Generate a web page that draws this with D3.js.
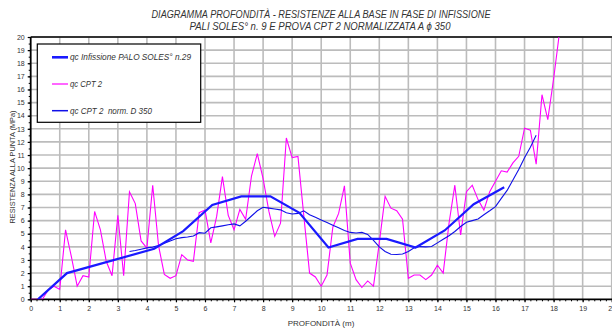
<!DOCTYPE html>
<html>
<head>
<meta charset="utf-8">
<script src="https://cdn.jsdelivr.net/npm/d3@7"></script>
<style>
  body { margin: 0; background: #fff; }
  svg { display: block; font-family: "Liberation Sans", Arial, sans-serif; }
</style>
</head>
<body>
<svg id="chart" width="612" height="329"></svg>
<script>
// qc Infissione PALO SOLES n.29 (depth m, MPa)
const paloDepth = [0.25, 1.25, 4.25, 5.25, 6.25, 7.25, 8.25, 9.25, 10.25, 11.25, 12.25, 13.25, 14.25, 15.25, 16.3];
const paloQc = [0, 2.0, 3.85, 5.2, 7.2, 7.85, 7.85, 6.6, 3.95, 4.6, 4.6, 3.95, 5.25, 7.25, 8.55];

// qc CPT 2
const cptDepth = [0, 0.4, 0.6, 0.8, 1.0, 1.2, 1.4, 1.6, 1.8, 2.0, 2.2, 2.4, 2.6, 2.8, 3.0, 3.2, 3.4, 3.6, 3.8, 4.0,
  4.2, 4.4, 4.6, 4.8, 5.0, 5.2, 5.4, 5.6, 5.8, 6.0, 6.2, 6.4, 6.6, 6.8, 7.0, 7.2, 7.4, 7.6, 7.8, 8.0,
  8.2, 8.4, 8.6, 8.8, 9.0, 9.2, 9.4, 9.6, 9.8, 10.0, 10.2, 10.4, 10.6, 10.8, 11.0, 11.2, 11.4, 11.6, 11.8, 12.0,
  12.2, 12.4, 12.6, 12.8, 13.0, 13.2, 13.4, 13.6, 13.8, 14.0, 14.2, 14.4, 14.6, 14.8, 15.0, 15.2, 15.4, 15.6, 15.8, 16.0,
  16.2, 16.4, 16.6, 16.8, 17.0, 17.2, 17.4, 17.6, 17.8, 18.0, 18.2];
const cptQc = [0, 0, 0.7, 1.0, 0.75, 5.3, 3.25, 1.0, 1.8, 1.7, 6.7, 5.3, 2.9, 1.8, 6.4, 1.8, 8.2, 7.3, 4.45, 3.9,
  8.7, 4.1, 1.9, 1.6, 1.8, 3.4, 3.0, 2.9, 6.6, 6.8, 4.3, 6.3, 9.35, 6.4, 5.3, 6.85, 6.1, 9.4, 11.1, 9.2,
  6.7, 4.8, 5.8, 12.3, 10.8, 10.9, 6.4, 2.0, 1.7, 1.0, 1.85, 5.5, 6.55, 8.65, 2.75, 1.5, 0.9, 1.4, 1.0, 4.3,
  7.85, 6.95, 6.75, 6.1, 1.6, 1.85, 1.85, 1.5, 1.85, 2.6, 2.0, 5.8, 8.7, 4.9, 8.2, 8.7, 7.6, 6.8, 8.2, 9.0,
  9.8, 9.7, 10.4, 10.9, 13.05, 12.9, 10.3, 15.6, 13.7, 16.8, 20.3];

// qc CPT 2 norm. D 350
const normDepth = [3.4, 3.6, 3.8, 4.0, 4.2, 4.4, 4.6, 4.8, 5.0, 5.2, 5.4, 5.6, 5.8, 6.0, 6.2, 6.4, 6.6, 6.8, 7.0, 7.2,
  7.4, 7.6, 7.8, 8.0, 8.2, 8.4, 8.6, 8.8, 9.0, 9.2, 9.4, 9.6, 9.8, 10.0, 10.2, 10.4, 10.6, 10.8, 11.0, 11.2,
  11.4, 11.6, 11.8, 12.0, 12.2, 12.4, 12.6, 12.8, 13.0, 13.2, 13.4, 13.6, 13.8, 14.0, 14.2, 14.4, 14.6, 14.8, 15.0, 15.2,
  15.4, 15.6, 15.8, 16.0, 16.2, 16.4, 16.6, 16.8, 17.0, 17.2, 17.4];
const normQc = [3.65, 3.72, 3.82, 3.92, 3.98, 4.1, 4.28, 4.45, 4.62, 4.7, 4.75, 4.82, 5.08, 5.04, 5.45, 5.52, 5.6, 5.68, 5.75, 5.6,
  5.95, 6.35, 6.75, 7.02, 6.95, 6.88, 6.82, 6.6, 6.5, 6.55, 6.75, 6.45, 6.25, 6.05, 5.85, 5.65, 5.45, 5.25, 5.1, 5.05,
  5.1, 4.95, 4.5, 4.0, 3.65, 3.43, 3.42, 3.45, 3.65, 3.92, 4.02, 4.0, 4.02, 4.3, 4.58, 4.85, 5.17, 5.55, 5.88, 6.0,
  6.13, 6.45, 6.75, 7.07, 7.7, 8.3, 9.1, 9.9, 10.8, 11.6, 12.5];

const xTicks = d3.range(0, 21);
const yTicks = d3.range(0, 21);

const titleLines = ['DIAGRAMMA PROFONDITÀ - RESISTENZE ALLA BASE IN FASE DI INFISSIONE',
  'PALI SOLES° n. 9 E PROVA CPT 2 NORMALIZZATA A \u03D5 350'];
const legendLabels = ['qc Infissione PALO SOLES° n.29', 'qc CPT 2', 'qc CPT 2  norm. D 350'];

const svg = d3.select('#chart');
const plotLeft = 30.7, plotRight = 611.7, plotTop = 37, plotBottom = 299.3;

const x = d3.scaleLinear().domain([0, 20]).range([plotLeft, plotRight]);
const y = d3.scaleLinear().domain([0, 20]).range([plotBottom, plotTop]);

svg.append('defs').append('clipPath').attr('id', 'plot')
  .append('rect').attr('x', plotLeft).attr('y', plotTop)
  .attr('width', plotRight - plotLeft + 2).attr('height', plotBottom - plotTop);

// grid
const grid = svg.append('g').attr('stroke', '#bcbcbc').attr('stroke-width', 1.6);
grid.selectAll('.gx').data(xTicks.slice(1)).enter().append('line')
  .attr('x1', d => x(d)).attr('x2', d => x(d)).attr('y1', plotTop).attr('y2', plotBottom);
grid.selectAll('.gy').data(yTicks.slice(1)).enter().append('line')
  .attr('x1', plotLeft).attr('x2', 612).attr('y1', d => y(d)).attr('y2', d => y(d));

// top border
svg.append('line').attr('x1', plotLeft).attr('x2', 612).attr('y1', plotTop).attr('y2', plotTop)
  .attr('stroke', '#000').attr('stroke-width', 1.5);

// axes
const xAxis = d3.axisBottom(x).tickValues(xTicks).tickSize(3).tickPadding(4);
const gx = svg.append('g').attr('transform', `translate(0,${plotBottom})`).call(xAxis);
gx.select('.domain').attr('stroke-width', 1.8).attr('d', `M${plotLeft},0H612`);
gx.selectAll('text').attr('font-size', 7).attr('fill', '#333');
gx.selectAll('.tick line').attr('stroke-width', 1.2);

const xMinor = d3.axisBottom(x).tickValues(d3.range(0, 100).map(i => i * 0.2)).tickSize(2).tickFormat('');
svg.append('g').attr('transform', `translate(0,${plotBottom})`).call(xMinor)
  .call(g => g.select('.domain').remove());

const yAxis = d3.axisLeft(y).tickValues(yTicks).tickSize(3).tickPadding(3);
const gy = svg.append('g').attr('transform', `translate(${plotLeft},0)`).call(yAxis);
gy.select('.domain').attr('stroke-width', 1.8).attr('d', `M0,${plotBottom}V${plotTop}`);
gy.selectAll('text').attr('font-size', 7).attr('fill', '#333');
gy.selectAll('.tick line').attr('stroke-width', 1.2);

const yMinor = d3.axisLeft(y).tickValues(d3.range(0, 40).map(i => i * 0.5)).tickSize(2).tickFormat('');
svg.append('g').attr('transform', `translate(${plotLeft},0)`).call(yMinor)
  .call(g => g.select('.domain').remove());

// lines
const line = d3.line().x(d => x(d[0])).y(d => y(d[1]));
const plot = svg.append('g').attr('clip-path', 'url(#plot)').attr('fill', 'none');

plot.append('path').datum(d3.zip(cptDepth, cptQc))
  .attr('d', line).attr('stroke', '#ff00ff').attr('stroke-width', 1.1);
plot.append('path').datum(d3.zip(normDepth, normQc))
  .attr('d', line).attr('stroke', '#1010e8').attr('stroke-width', 1.1);
plot.append('path').datum(d3.zip(paloDepth, paloQc))
  .attr('d', line).attr('stroke', '#1a1aff').attr('stroke-width', 2.2);

// legend
const legend = svg.append('g');
legend.append('rect').attr('x', 37.3).attr('y', 44).attr('width', 163.4).attr('height', 78.3)
  .attr('fill', '#fff').attr('stroke', '#000').attr('stroke-width', 1.2);
const legendStyles = [['#1a1aff', 2.6], ['#ff00ff', 1.2], ['#1010e8', 1.5]];
const legendWidths = [121, 32, 82];
legendLabels.forEach((label, i) => {
  const ly = 57.3 + i * 26.7;
  legend.append('line').attr('x1', 52).attr('x2', 68).attr('y1', ly).attr('y2', ly)
    .attr('stroke', legendStyles[i][0]).attr('stroke-width', legendStyles[i][1]);
  legend.append('text').attr('x', 70).attr('y', ly + 3)
    .attr('font-size', 8.5).attr('font-style', 'italic').attr('fill', '#333')
    .style('white-space', 'pre')
    .attr('textLength', legendWidths[i]).attr('lengthAdjust', 'spacingAndGlyphs')
    .text(label);
});

// title
svg.append('text').attr('x', 321).attr('y', 18).attr('text-anchor', 'middle')
  .attr('font-size', 10.5).attr('font-style', 'italic').attr('fill', '#333')
  .attr('textLength', 339).attr('lengthAdjust', 'spacingAndGlyphs').text(titleLines[0]);
svg.append('text').attr('x', 320).attr('y', 29.5).attr('text-anchor', 'middle')
  .attr('font-size', 10.5).attr('font-style', 'italic').attr('fill', '#333')
  .attr('textLength', 261).attr('lengthAdjust', 'spacingAndGlyphs').text(titleLines[1]);

// axis titles
svg.append('text').attr('x', 321).attr('y', 326).attr('text-anchor', 'middle')
  .attr('font-size', 8).attr('fill', '#333').text('PROFONDITÀ (m)');
svg.append('text').attr('transform', 'translate(14.5,167) rotate(-90)').attr('text-anchor', 'middle')
  .attr('font-size', 7.5).attr('fill', '#333')
  .attr('textLength', 113).attr('lengthAdjust', 'spacingAndGlyphs')
  .text('RESISTENZA ALLA PUNTA (MPa)');
</script>
</body>
</html>
